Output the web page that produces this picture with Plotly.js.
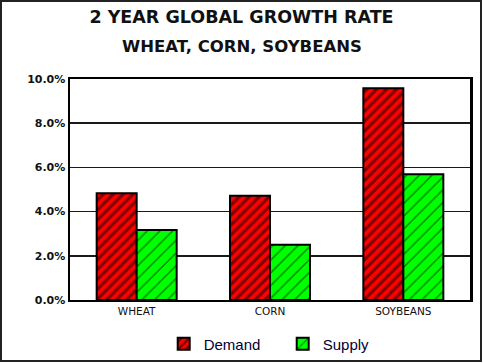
<!DOCTYPE html>
<html>
<head>
<meta charset="utf-8">
<script src="https://cdn.plot.ly/plotly-3.0.1.min.js"></script>
<style>
  html, body { margin: 0; padding: 0; background: #fff; }
  #chart { width: 483px; height: 363px; }
</style>
</head>
<body>
<div id="chart"></div>
<script>
const categories = ["WHEAT", "CORN", "SOYBEANS"];
const demand = [4.83, 4.72, 9.58];
const supply = [3.17, 2.50, 5.69];
const seriesNames = ["Demand", "Supply"];
const yTicks = [0, 2, 4, 6, 8, 10];
const yTickLabels = ["0.0%", "2.0%", "4.0%", "6.0%", "8.0%", "10.0%"];
const titleText = "2 YEAR GLOBAL GROWTH RATE";
const subtitleText = "WHEAT, CORN, SOYBEANS";

const traces = [
  {
    type: "bar",
    name: seriesNames[0],
    x: categories,
    y: demand,
    marker: {
      color: "#ff0000",
      line: { color: "#000000", width: 2 },
      pattern: { shape: "/", fillmode: "overlay", bgcolor: "#ff0000", fgcolor: "#000000", size: 7, solidity: 0.45 }
    },
    hoverinfo: "skip"
  },
  {
    type: "bar",
    name: seriesNames[1],
    x: categories,
    y: supply,
    marker: {
      color: "#00ff00",
      line: { color: "#000000", width: 2 },
      pattern: { shape: "/", fillmode: "overlay", bgcolor: "#00ff00", fgcolor: "#000000", size: 9, solidity: 0.15 }
    },
    hoverinfo: "skip"
  }
];

const layout = {
  width: 483,
  height: 363,
  margin: { l: 70, r: 13, t: 79, b: 63, pad: 0, autoexpand: false },
  paper_bgcolor: "#ffffff",
  plot_bgcolor: "#ffffff",
  barmode: "group",
  bargap: 0.4,
  bargroupgap: 0,
  title: {
    text: titleText,
    font: { family: "DejaVu Sans", size: 17.5, color: "#111111", weight: "bold" },
    x: 0.5, xref: "container", xanchor: "center",
    y: 1 - 17 / 363, yref: "container", yanchor: "middle"
  },
  annotations: [
    {
      text: subtitleText,
      xref: "paper", yref: "paper",
      x: (241.5 - 70) / 400, y: (300 - 46) / 221,
      xanchor: "center", yanchor: "middle",
      showarrow: false,
      font: { family: "DejaVu Sans", size: 16.5, color: "#111111", weight: "bold" }
    }
  ],
  xaxis: {
    type: "category",
    showgrid: false,
    showline: true,
    linecolor: "#000000",
    linewidth: 2,
    mirror: true,
    ticks: "",
    tickfont: { family: "DejaVu Sans", size: 10.5, color: "#111111" },
    fixedrange: true
  },
  yaxis: {
    range: [0, 10],
    tickvals: yTicks,
    ticktext: yTickLabels,
    showgrid: true,
    gridcolor: "#1a1a1a",
    gridwidth: 1.5,
    zeroline: false,
    showline: true,
    linecolor: "#000000",
    linewidth: 2.5,
    mirror: true,
    ticks: "",
    tickfont: { family: "DejaVu Sans", size: 11, color: "#111111", weight: "bold" },
    fixedrange: true
  },
  showlegend: true,
  legend: {
    orientation: "h",
    x: (163.7 - 70) / 400, xanchor: "left",
    y: (300 - 344) / 221, yanchor: "middle",
    font: { family: "Liberation Sans", size: 15, color: "#000033" },
    entrywidth: 74,
    entrywidthmode: "pixels",
    bgcolor: "rgba(0,0,0,0)"
  },
  shapes: [
    {
      type: "rect",
      xref: "paper", yref: "paper",
      x0: (1 - 70) / 400, x1: (481 - 70) / 400,
      y0: (300 - 361) / 221, y1: (300 - 1) / 221,
      line: { color: "#222222", width: 2 },
      fillcolor: "rgba(0,0,0,0)",
      layer: "below"
    }
  ]
};

Plotly.newPlot("chart", traces, layout, { displayModeBar: false, staticPlot: true });
</script>
</body>
</html>
